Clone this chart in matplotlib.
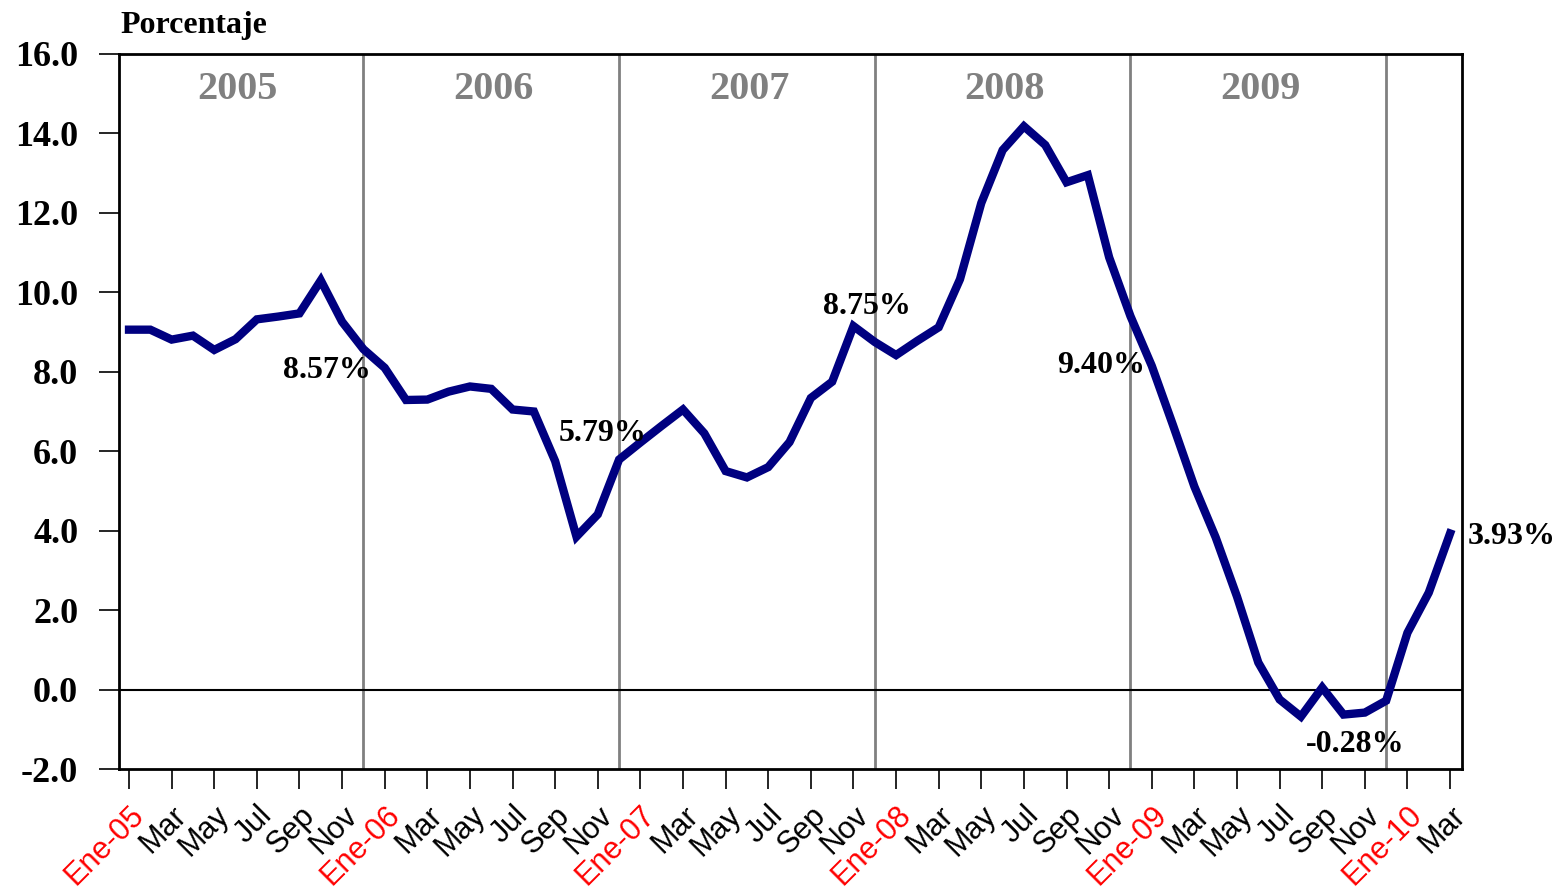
import numpy as np
import matplotlib
matplotlib.use("Agg")
import matplotlib.pyplot as plt

# Datos mensuales (porcentaje), Ene-05 a Mar-10
valores = [
    9.06, 9.06, 8.81, 8.91, 8.55, 8.82, 9.32, 9.39, 9.47, 10.30, 9.26, 8.57,   # 2005
    8.10, 7.29, 7.30, 7.50, 7.63, 7.57, 7.05, 7.00, 5.75, 3.85, 4.41, 5.79,    # 2006
    6.22, 6.64, 7.05, 6.45, 5.50, 5.34, 5.60, 6.23, 7.34, 7.75, 9.15, 8.75,    # 2007
    8.42, 8.78, 9.12, 10.33, 12.25, 13.58, 14.18, 13.71, 12.77, 12.95, 10.88, 9.40,  # 2008
    8.15, 6.65, 5.11, 3.83, 2.34, 0.68, -0.25, -0.68, 0.05, -0.63, -0.58, -0.28,     # 2009
    1.43, 2.44, 3.93,                                                           # 2010
]
anios = ["2005", "2006", "2007", "2008", "2009"]
meses = ["Ene", "Feb", "Mar", "Abr", "May", "Jun", "Jul", "Ago", "Sep", "Oct", "Nov", "Dic"]

# Etiquetas de valores destacados: (indice del mes, texto, desplazamiento en pixeles)
etiquetas = [
    (11, "8.57%", (-36, -21)),
    (23, "5.79%", (-16, 26)),
    (35, "8.75%", (-8, 35)),
    (47, "9.40%", (-29, -49)),
    (59, "-0.28%", (-31, -44)),
    (62, "3.93%", (62, -3)),
]

x = np.arange(len(valores))
serif = "Liberation Serif"
sans = "Liberation Sans"

fig = plt.figure(figsize=(15.6, 8.9), dpi=100)
ax = fig.add_axes([119 / 1560, 1 - 769 / 890, (1462 - 119) / 1560, (769 - 54) / 890])

# separadores de año (en diciembre) y nombres de año
for k, anio in enumerate(anios):
    ax.axvline(12 * k + 11, color="#808080", lw=2, zorder=1)
    ax.text(12 * k + 5.1, 15.1, anio, ha="center", va="center", fontsize=29,
            fontweight="bold", color="#808080", family=serif)

ax.axhline(0, color="black", lw=1.5, zorder=2)
ax.plot(x, valores, color="#000080", lw=6, solid_joinstyle="miter", zorder=3)

for i, txt, off in etiquetas:
    ax.annotate(txt, xy=(i, valores[i]), xytext=off, textcoords="offset pixels",
                ha="center", va="center", fontsize=23, fontweight="bold", family=serif)

ax.set_xlim(-0.47, 62.56)
ax.set_ylim(-2, 16)
ax.set_yticks(np.arange(-2, 17, 2))
ax.set_yticklabels([f"{v:.1f}" for v in np.arange(-2, 17, 2)], fontsize=26,
                   fontweight="bold", family=serif)

pos = x[::2]
lbls = []
for i in pos:
    m = meses[i % 12]
    lbls.append(f"{m}-{(5 + i // 12):02d}" if m == "Ene" else m)
ax.set_xticks(pos)
ax.set_xticklabels(lbls, rotation=45, ha="right", va="top", rotation_mode="anchor",
                   fontsize=22, family=sans)
for t in ax.get_xticklabels():
    if t.get_text().startswith("Ene"):
        t.set_color("red")

ax.tick_params(axis="y", direction="out", length=14.4, width=1.2, pad=15)
ax.tick_params(axis="x", direction="out", length=14.4, width=1.2, pad=8)
for s in ax.spines.values():
    s.set_linewidth(2)

fig.text(120 / 1560, 1 - 26 / 890, "Porcentaje", ha="left", va="center",
         fontsize=23, fontweight="bold", family=serif)

fig.savefig("out.png", dpi=100)
